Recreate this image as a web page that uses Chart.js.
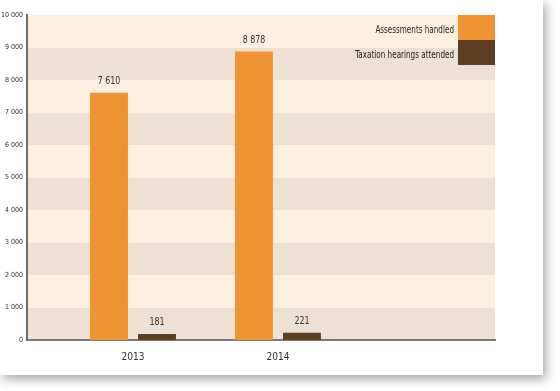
<!DOCTYPE html>
<html>
<head>
<meta charset="utf-8">
<script src="https://cdn.jsdelivr.net/npm/chart.js@4"></script>
<style>
 body{margin:0;background:#fff;width:560px;height:391px;overflow:hidden;}
 .card{position:absolute;left:0;top:0;width:543px;height:375px;background:#fff;box-shadow:3px 4px 10px rgba(0,0,0,0.35);}
</style>
</head>
<body>
<div class="card"><canvas id="chart" width="543" height="375"></canvas></div>
<script>
const years = [2013, 2014];
const seriesNames = ["Assessments handled", "Taxation hearings attended"];
const assessments = [7610, 8878];
const hearings = [181, 221];
const yTicks = [0, 1000, 2000, 3000, 4000, 5000, 6000, 7000, 8000, 9000, 10000];
const seriesColors = ["#ef9333", "#5d3e23"];

const FONT = '"DejaVu Sans Condensed", sans-serif';

function fmt(v){
 return String(v).replace(/\B(?=(\d{3})+(?!\d))/g, " ");
}

// squeeze text sideways, the original uses a condensed face
function narrowText(ctx, text, x, y, sx){
 ctx.save();
 ctx.translate(x, y);
 ctx.scale(sx, 1);
 ctx.fillText(text, 0, 0);
 ctx.restore();
}

// alternating bands behind the bars
const bands = {
 id: "bands",
 beforeDraw(chart){
  const {ctx, chartArea, scales} = chart;
  const y = scales.y;
  ctx.save();
  for(let i = 0; i < yTicks.length - 1; i++){
   const top = y.getPixelForValue(yTicks[i+1]);
   const bot = y.getPixelForValue(yTicks[i]);
   ctx.fillStyle = (i % 2 === 0) ? "#ece1d4" : "#fdf0e1";
   ctx.fillRect(chartArea.left, top, chartArea.right - chartArea.left, bot - top);
  }
  ctx.restore();
 }
};

// value labels over bars
const valueLabels = {
 id: "valueLabels",
 afterDatasetsDraw(chart){
  const ctx = chart.ctx;
  ctx.save();
  ctx.font = "11px " + FONT;
  ctx.fillStyle = "#333";
  ctx.textAlign = "center";
  ctx.textBaseline = "bottom";
  chart.data.datasets.forEach((ds, di) => {
   chart.getDatasetMeta(di).data.forEach((bar, i) => {
    narrowText(ctx, fmt(ds.data[i]), bar.x, bar.y - 6, 0.8);
   });
  });
  ctx.restore();
 }
};

// legend in the top right corner, text left of the swatch
const cornerLegend = {
 id: "cornerLegend",
 afterDraw(chart){
  const {ctx, chartArea} = chart;
  const sw = 37, sh = 25;
  ctx.save();
  ctx.font = "11px " + FONT;
  ctx.textAlign = "right";
  ctx.textBaseline = "middle";
  chart.data.datasets.forEach((ds, i) => {
   const top = chartArea.top + i * sh;
   ctx.fillStyle = ds.backgroundColor;
   ctx.fillRect(chartArea.right - sw, top, sw, sh);
   ctx.fillStyle = "#222";
   narrowText(ctx, ds.label, chartArea.right - sw - 4, top + sh / 2 + 3, 0.73);
  });
  ctx.restore();
 }
};

new Chart(document.getElementById("chart"), {
 type: "bar",
 data: {
  labels: years,
  datasets: [
   {label: seriesNames[0], data: assessments, backgroundColor: seriesColors[0]},
   {label: seriesNames[1], data: hearings, backgroundColor: seriesColors[1]}
  ]
 },
 options: {
  responsive: false,
  animation: false,
  categoryPercentage: 0.662,
  barPercentage: 0.79,
  layout: {padding: {left: 0, right: 48, top: 15, bottom: 0}},
  plugins: {legend: {display: false}, tooltip: {enabled: false}},
  scales: {
   x: {
    type: "linear",
    offset: false,
    min: 2012.269,
    max: 2015.497,
    afterBuildTicks: s => { s.ticks = years.map(v => ({value: v})); },
    afterFit: s => { s.height = 35; },
    grid: {display: false, drawTicks: false},
    border: {display: true, color: "#7a7a7a", width: 2},
    ticks: {
     padding: 11,
     color: "#333",
     font: {family: FONT, size: 10},
     callback: v => String(v)
    }
   },
   y: {
    min: 0,
    max: 10000,
    afterBuildTicks: s => { s.ticks = yTicks.map(v => ({value: v})); },
    afterFit: s => { s.width = 27; },
    grid: {display: false, drawTicks: false},
    border: {display: true, color: "#6b6b6b", width: 2},
    ticks: {
     padding: 4,
     color: "#333",
     font: {family: FONT, size: 7},
     callback: v => fmt(v)
    }
   }
  }
 },
 plugins: [bands, valueLabels, cornerLegend]
});
</script>
</body>
</html>
